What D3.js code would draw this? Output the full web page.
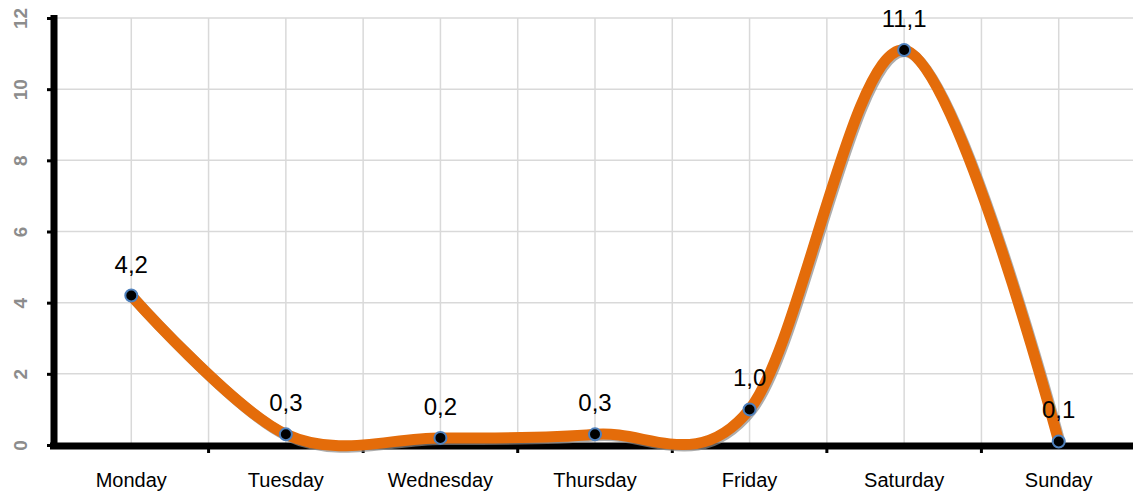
<!DOCTYPE html>
<html>
<head>
<meta charset="utf-8">
<script src="https://cdn.jsdelivr.net/npm/d3@7"></script>
<style>
  body { margin: 0; background: #fff; }
  text { font-family: "Liberation Sans", Arial, sans-serif; }
</style>
</head>
<body>
<div id="chart"></div>
<script>
var days = ["Monday", "Tuesday", "Wednesday", "Thursday", "Friday", "Saturday", "Sunday"];
var values = [4.2, 0.3, 0.2, 0.3, 1.0, 11.1, 0.1];
var labels = ["4,2", "0,3", "0,2", "0,3", "1,0", "11,1", "0,1"];
var yTicks = [0, 2, 4, 6, 8, 10, 12];

var width = 1133, height = 498;

var svg = d3.select("#chart").append("svg")
  .attr("width", width)
  .attr("height", height);

var x = d3.scaleBand()
  .domain(days)
  .range([54, 1136]);

var y = d3.scaleLinear()
  .domain([0, 12])
  .range([445, 18]);

var cx = function(d) { return x(d) + x.bandwidth() / 2; };

// gridlines
var grid = svg.append("g");
grid.selectAll(".hg")
  .data(yTicks)
  .enter().append("line")
  .attr("x1", 54).attr("x2", width)
  .attr("y1", function(d) { return y(d); })
  .attr("y2", function(d) { return y(d); })
  .attr("stroke", "#d9d9d9")
  .attr("stroke-width", 1.5);

var vpos = [];
days.forEach(function(d, i) {
  vpos.push(cx(d));
  if (i < days.length - 1) vpos.push(x(d) + x.bandwidth());
});
grid.selectAll(".vg")
  .data(vpos)
  .enter().append("line")
  .attr("x1", function(d) { return d; })
  .attr("x2", function(d) { return d; })
  .attr("y1", y(12)).attr("y2", y(0))
  .attr("stroke", "#d9d9d9")
  .attr("stroke-width", 1.5);

// y axis
var yAxis = svg.append("g")
  .attr("transform", "translate(54,0)")
  .call(d3.axisLeft(y).tickValues(yTicks).tickSize(7).tickPadding(0));
yAxis.select(".domain").remove();
yAxis.selectAll(".tick line").attr("stroke", "#000").attr("stroke-width", 3);
yAxis.selectAll(".tick text")
  .attr("transform", "translate(-34,0) rotate(-90)")
  .attr("x", 0).attr("dy", "0.35em")
  .attr("text-anchor", "middle")
  .attr("fill", "#8c8c8c")
  .attr("font-weight", "bold")
  .attr("font-size", "19px");
svg.append("line")
  .attr("x1", 54).attr("x2", 54)
  .attr("y1", y(12) - 3).attr("y2", y(0) + 3)
  .attr("stroke", "#000").attr("stroke-width", 7);

// x axis
var xAxis = svg.append("g")
  .attr("transform", "translate(0," + y(0) + ")")
  .call(d3.axisBottom(x).tickSize(0).tickPadding(28));
xAxis.select(".domain").remove();
xAxis.selectAll(".tick text")
  .attr("fill", "#000")
  .attr("font-size", "20px");
var midTicks = days.slice(0, -1).map(function(d) { return x(d) + x.bandwidth(); });
svg.selectAll(".xt")
  .data(midTicks)
  .enter().append("line")
  .attr("x1", function(d) { return d; })
  .attr("x2", function(d) { return d; })
  .attr("y1", y(0)).attr("y2", y(0) + 8)
  .attr("stroke", "#000").attr("stroke-width", 3);
svg.append("line")
  .attr("x1", 50).attr("x2", width)
  .attr("y1", y(0) + 1).attr("y2", y(0) + 1)
  .attr("stroke", "#000").attr("stroke-width", 7);

// series (excel-like smoothing)
var pts = days.map(function(d, i) { return [cx(d), y(values[i])]; });
var line = d3.line().curve(d3.curveCardinal.tension(0));

svg.append("path")
  .attr("d", line(pts))
  .attr("transform", "translate(1.5,1.5)")
  .attr("fill", "none")
  .attr("stroke", "#8a8a8a")
  .attr("stroke-opacity", 0.7)
  .attr("stroke-width", 11);

svg.append("path")
  .attr("d", line(pts))
  .attr("fill", "none")
  .attr("stroke", "#e46c0a")
  .attr("stroke-width", 11)
  .attr("stroke-linejoin", "round");

svg.selectAll(".dot")
  .data(pts)
  .enter().append("circle")
  .attr("cx", function(d) { return d[0]; })
  .attr("cy", function(d) { return d[1]; })
  .attr("r", 6)
  .attr("fill", "#000")
  .attr("stroke", "#4f81bd")
  .attr("stroke-width", 2);

svg.selectAll(".lbl")
  .data(pts)
  .enter().append("text")
  .attr("x", function(d) { return d[0]; })
  .attr("y", function(d) { return d[1] - 23; })
  .attr("text-anchor", "middle")
  .attr("font-size", "24px")
  .attr("fill", "#000")
  .text(function(d, i) { return labels[i]; });
</script>
</body>
</html>
